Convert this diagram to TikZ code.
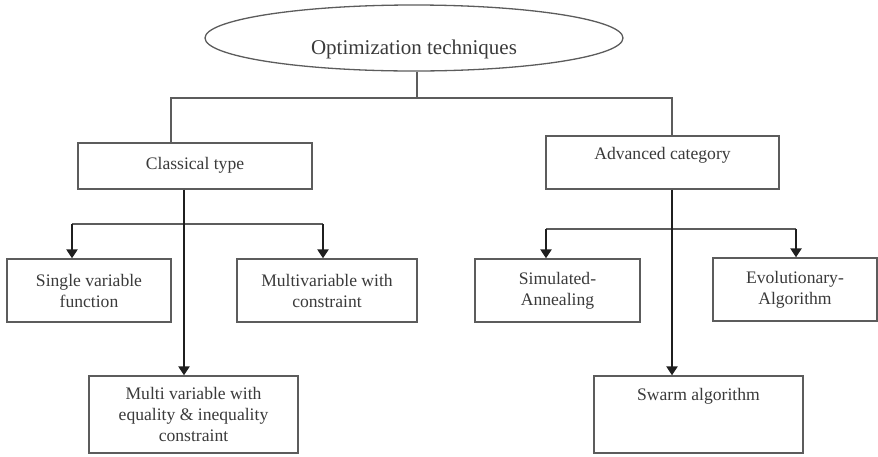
\documentclass[tikz,border=0pt]{standalone}
\usepackage{fontspec}
\setmainfont{Liberation Serif}
\usetikzlibrary{shapes.geometric,arrows.meta}
\definecolor{ink}{HTML}{3A3A3A}
\definecolor{rule}{HTML}{5C5C5C}
\begin{document}
\begin{tikzpicture}[x=1pt,y=-1pt,
  box/.style={draw=rule, line width=1.3pt, inner sep=0pt, align=center,
    text=ink, font=\fontsize{17.6}{21}\selectfont},
  oval/.style={ellipse, draw=rule, line width=1.3pt, inner sep=0pt,
    minimum width=418pt, minimum height=66pt},
  title/.style={text=ink, inner sep=0pt, font=\fontsize{21}{24}\selectfont},
  link/.style={draw=rule, line width=1.3pt},
  flow/.style={draw=black!88, line width=2.3pt,
    -{Triangle[length=9pt,width=11pt]}}
]
\useasboundingbox (0,0) rectangle (878,456);

% root
\node[oval] (el) at (414,38) {};
\node[title] (elt) at (414,49) {Optimization techniques};

% first level
\node[box, minimum width=234pt, minimum height=46pt,
  text height=26pt, text depth=20pt] (cl) at (195,166) {Classical type};
\node[box, minimum width=233pt, minimum height=53pt,
  text height=23pt, text depth=30pt] (ac) at (662.5,162.5) {Advanced category};

% classical branch
\node[box, minimum width=164pt, minimum height=63pt] (sv) at (89,290.5)
  {Single variable\\function};
\node[box, minimum width=180pt, minimum height=63pt] (mc) at (327,290.5)
  {Multivariable with\\constraint};
\node[box, minimum width=209pt, minimum height=77pt] (me) at (193.5,414.5)
  {Multi variable with\\equality \& inequality\\constraint};

% advanced branch
\node[box, minimum width=165pt, minimum height=63pt] (sa) at (557.5,290.5)
  {Simulated-\\Annealing};
\node[box, minimum width=164pt, minimum height=63pt] (ea) at (795,289.5)
  {Evolutionary-\\Algorithm};
\node[box, minimum width=209pt, minimum height=77pt,
  text height=24pt, text depth=53pt] (sw) at (698.5,414.5) {Swarm algorithm};

% junction points
\coordinate (tj) at (417,98);
\coordinate (tl) at (171,98);
\coordinate (tr) at (672,98);
\coordinate (lj) at (184,224);
\coordinate (lbl) at (72,224);
\coordinate (lbr) at (323,224);
\coordinate (rj) at (672,229);
\coordinate (rbl) at (546,229);
\coordinate (rbr) at (796,229);

% root to the two categories
\draw[link] (el.south -| tj) -- (tj);
\draw[link] (cl.north -| tl) -- (tl) -- (tr) -- (ac.north -| tr);

% classical arrows
\draw[link] (lbl) -- (lbr);
\draw[flow] (cl.south -| lj) -- (me.north -| lj);
\draw[flow] (lbl) -- (sv.north -| lbl);
\draw[flow] (lbr) -- (mc.north -| lbr);

% advanced arrows
\draw[link] (rbl) -- (rbr);
\draw[flow] (ac.south -| rj) -- (sw.north -| rj);
\draw[flow] (rbl) -- (sa.north -| rbl);
\draw[flow] (rbr) -- (ea.north -| rbr);
\end{tikzpicture}
\end{document}
